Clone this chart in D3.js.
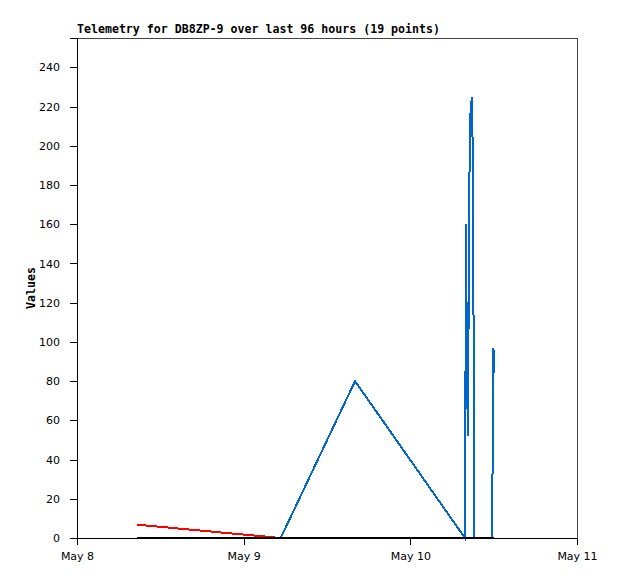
<!DOCTYPE html>
<html>
<head>
<meta charset="utf-8">
<script src="https://cdn.jsdelivr.net/npm/d3@7"></script>
<style>
  body { margin: 0; background: #fff; }
  .tick text { font-family: "DejaVu Sans", sans-serif; font-size: 11px; }
</style>
</head>
<body>
<div id="chart"></div>
<script>
// packet timestamps (19 points)
var times = [
  "2024-05-08T08:38", "2024-05-09T05:20", "2024-05-09T16:02", "2024-05-10T07:52",
  "2024-05-10T08:01", "2024-05-10T08:10", "2024-05-10T08:18", "2024-05-10T08:27",
  "2024-05-10T08:35", "2024-05-10T08:44", "2024-05-10T08:53", "2024-05-10T09:01",
  "2024-05-10T09:06", "2024-05-10T09:10", "2024-05-10T09:14", "2024-05-10T11:46",
  "2024-05-10T11:52", "2024-05-10T11:58", "2024-05-10T12:07"
];
var blueValues  = [0, 0, 80, 0, 160, 80, 52, 156, 212, 221, 225, 187, 112, 38, 0, 0, 48, 97, 84];
var redValues   = [6.8, 0, 0, 0, 0, 0, 0, 0, 0, 0, 0, 0, 0, 0, 0, 0, 0, 0, 0];
var blackValues = [0, 0, 0, 0, 0, 0, 0, 0, 0, 0, 0, 0, 0, 0, 0, 0, 0, 0, 0];
var yTickValues = [0, 20, 40, 60, 80, 100, 120, 140, 160, 180, 200, 220, 240];
var xTickDates = ["2024-05-08T00:00", "2024-05-09T00:00", "2024-05-10T00:00", "2024-05-11T00:00"];
var title = "Telemetry for DB8ZP-9 over last 96 hours (19 points)";

var dim = {
  width: 618,
  height: 579,
  left: 77,
  right: 577,
  top: 38,
  bottom: 538
};

var parse = d3.isoParse;
var dates = times.map(function(t) { return parse(t); });

var x = d3.scaleTime()
  .domain([parse(xTickDates[0]), parse(xTickDates[3])])
  .range([dim.left, dim.right]);
var y = d3.scaleLinear()
  .domain([0, 255])
  .range([dim.bottom, dim.top]);

var svg = d3.select("#chart").append("svg")
  .attr("width", dim.width)
  .attr("height", dim.height);

// frame
svg.append("rect")
  .attr("x", dim.left + 0.5)
  .attr("y", dim.top + 0.5)
  .attr("width", dim.right - dim.left)
  .attr("height", dim.bottom - dim.top)
  .attr("fill", "none")
  .attr("stroke", "#444")
  .attr("shape-rendering", "crispEdges");

var yAxis = svg.append("g")
  .attr("transform", "translate(" + dim.left + ",0)")
  .call(d3.axisLeft(y).tickValues(yTickValues).tickSize(7).tickPadding(10));
var xAxis = svg.append("g")
  .attr("transform", "translate(0," + dim.bottom + ")")
  .call(d3.axisBottom(x).tickValues(xTickDates.map(parse)).tickFormat(d3.timeFormat("May %-d")).tickSize(7).tickPadding(5));

[yAxis, xAxis].forEach(function(a) {
  a.select(".domain").attr("stroke", "#000").attr("shape-rendering", "crispEdges");
  a.selectAll(".tick line").attr("stroke", "#000").attr("shape-rendering", "crispEdges");
  a.selectAll(".tick text").attr("fill", "#000");
});
xAxis.selectAll(".tick text").attr("dy", "0.9em");

function drawSeries(values, color) {
  var line = d3.line()
    .x(function(d, i) { return x(dates[i]); })
    .y(function(d) { return y(d); });
  svg.append("path")
    .datum(values)
    .attr("d", line)
    .attr("fill", "none")
    .attr("stroke", color)
    .attr("stroke-width", 2)
    .attr("shape-rendering", "crispEdges");
}

drawSeries(redValues, "#ff0000");
drawSeries(blueValues, "#0066cc");
drawSeries(blackValues, "#000000");

svg.append("text")
  .attr("x", dim.left)
  .attr("y", 33)
  .style("font-family", "'DejaVu Sans Mono', monospace")
  .style("font-weight", "bold")
  .style("font-size", "11.6px")
  .text(title);

svg.append("text")
  .attr("transform", "translate(35," + ((dim.top + dim.bottom) / 2) + ") rotate(-90)")
  .style("text-anchor", "middle")
  .style("font-family", "'DejaVu Sans Mono', monospace")
  .style("font-weight", "bold")
  .style("font-size", "11.6px")
  .text("Values");
</script>
</body>
</html>
